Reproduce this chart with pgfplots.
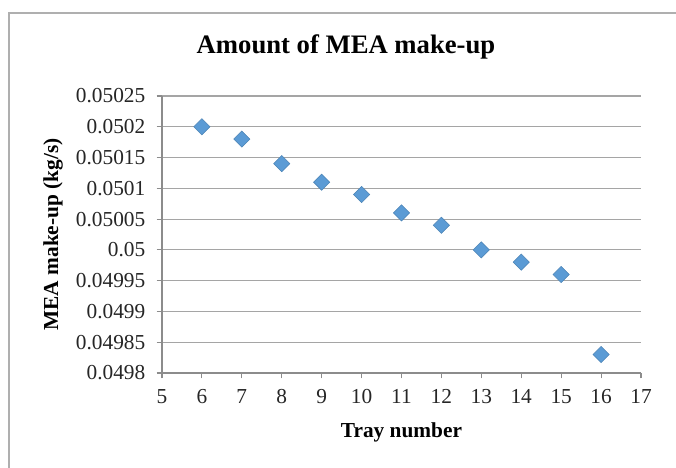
\documentclass[border=0pt]{standalone}
\usepackage{pgfplots}
\pgfplotsset{compat=1.18}
\usepackage{fontspec}
\setmainfont{Liberation Serif}
\definecolor{gridc}{RGB}{165,165,165}
\definecolor{axc}{RGB}{140,140,140}
\definecolor{mk}{RGB}{91,155,213}
\definecolor{framec}{RGB}{175,175,175}
\begin{document}
\begin{tikzpicture}
\useasboundingbox (0,0) rectangle (507pt,351pt);
\draw[framec, line width=1.3pt] (6.75pt,0) -- (6.75pt,341.25pt) -- (507pt,341.25pt);
\node[font=\fontsize{20}{24}\selectfont\bfseries] at (259.5pt,315.75pt) {Amount of MEA make-up};
\begin{axis}[
  at={(121.5pt,71.25pt)}, anchor=south west,
  scale only axis, width=359.25pt, height=207.75pt,
  xmin=5, xmax=17, ymin=0.0498, ymax=0.05025,
  xtick={5,6,7,8,9,10,11,12,13,14,15,16,17},
  ytick={0.0498,0.04985,0.0499,0.04995,0.05,0.05005,0.0501,0.05015,0.0502,0.05025},
  axis x line*=bottom, axis y line*=left,
  axis line style={axc, line width=0.8pt},
  tick align=outside, major tick length=4pt,
  tick style={axc, line width=0.8pt},
  ymajorgrids, grid style={gridc, line width=0.8pt},
  scaled y ticks=false,
  yticklabel style={/pgf/number format/fixed, /pgf/number format/precision=5, xshift=-5pt},
  xticklabel style={yshift=-5pt},
  /pgf/number format/assume math mode=true,
  ticklabel style={font=\fontsize{16}{18}\selectfont, text=black!85},
  xlabel={Tray number}, ylabel={MEA make-up (kg/s)},
  label style={font=\fontsize{16}{18}\selectfont\bfseries},
  xlabel style={at={(axis description cs:0.5,-0.213)}, anchor=center},
  ylabel style={at={(axis description cs:-0.2276,0.5)}, anchor=center},
  clip=false,
]
\addplot[only marks, mark=square*, mark size=4.3pt,
  mark options={rotate=45, fill=mk, draw=mk!85!black, line width=0.4pt}]
  coordinates {
  (6,0.05020) (7,0.05018) (8,0.05014) (9,0.05011) (10,0.05009) (11,0.05006)
  (12,0.05004) (13,0.05000) (14,0.04998) (15,0.04996) (16,0.04983)
  };
\end{axis}
\end{tikzpicture}
\end{document}
